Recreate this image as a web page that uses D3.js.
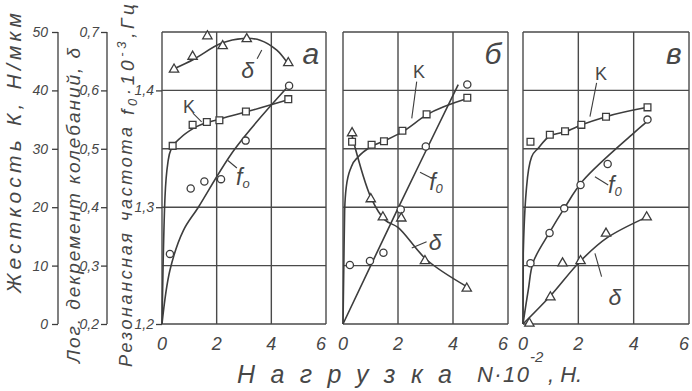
<!DOCTYPE html>
<html>
<head>
<meta charset="utf-8">
<script src="https://cdn.jsdelivr.net/npm/d3@7"></script>
<style>
  body { margin: 0; background: #fff; }
  svg { display: block; }
  text { font-family: "Liberation Sans", "DejaVu Sans", sans-serif; font-style: italic; fill: #474747; }
</style>
</head>
<body>
<svg id="chart" width="692" height="391"></svg>
<script>
// ---- data ----
const xTicks = [0, 2, 4, 6];
const kTicks = [0, 10, 20, 30, 40, 50];
const dTicks = [0.2, 0.3, 0.4, 0.5, 0.6, 0.7];
const fTicks = [1.2, 1.3, 1.4];
const panelNames = ["а", "б", "в"];

// panel а
const aK_x = [0.39, 1.12, 1.64, 2.10, 3.07, 4.62];
const aK_y = [30.5, 34.1, 34.6, 34.9, 36.4, 38.5];
const aF_x = [0.29, 1.05, 1.55, 2.16, 3.06, 4.65];
const aF_y = [1.260, 1.316, 1.322, 1.324, 1.357, 1.404];
const aD_x = [0.44, 1.12, 1.66, 2.22, 3.10, 4.62];
const aD_y = [0.636, 0.658, 0.693, 0.676, 0.688, 0.647];
const aKfit_x = [0, 0.04, 0.11, 0.23, 0.35, 0.66, 1.15, 2.12, 3.22, 4.61];
const aKfit_y = [0, 10, 21.8, 28.1, 30.1, 31.8, 33.5, 35.1, 36.5, 38.4];
const aFfit_x = [0, 0.29, 0.78, 1.33, 2.67, 4.56];
const aFfit_y = [1.2, 1.246, 1.28, 1.300, 1.350, 1.402];
const aDfit_x = [0.48, 1.15, 2.18, 2.97, 3.59, 4.2, 4.56];
const aDfit_y = [0.638, 0.653, 0.681, 0.689, 0.686, 0.669, 0.649];

// panel б
const bK_x = [0.33, 1.04, 1.49, 2.16, 3.04, 4.52];
const bK_y = [31.2, 30.7, 31.3, 33.1, 35.9, 38.75];
const bF_x = [0.25, 0.98, 1.47, 2.10, 3.01, 4.52];
const bF_y = [1.2505, 1.254, 1.261, 1.298, 1.352, 1.405];
const bD_x = [0.33, 1.01, 1.45, 2.12, 2.98, 4.50];
const bD_y = [0.527, 0.414, 0.383, 0.381, 0.308, 0.261];
const bKfit_x = [0, 0.03, 0.06, 0.12, 0.30, 0.55, 1.03, 1.52, 2.16, 3.04, 4.52];
const bKfit_y = [0, 10, 19.5, 23.5, 26.9, 28.6, 30.4, 31.4, 32.9, 35.8, 38.6];
const bFfit_x = [0, 2.0, 4.19];
const bFfit_y = [1.2, 1.299, 1.405];
const bDfit_x = [0.33, 1.03, 1.53, 2.01, 3.04, 4.5];
const bDfit_y = [0.522, 0.415, 0.378, 0.365, 0.31, 0.264];

// panel в
const cK_x = [0.27, 0.97, 1.52, 2.11, 3.0, 4.5];
const cK_y = [31.2, 32.4, 33.0, 34.1, 35.5, 37.1];
const cF_x = [0.27, 0.96, 1.49, 2.08, 3.06, 4.5];
const cF_y = [1.252, 1.278, 1.299, 1.319, 1.337, 1.375];
const cD_x = [0.23, 0.99, 1.43, 2.08, 3.0, 4.47];
const cD_y = [0.201, 0.246, 0.304, 0.308, 0.355, 0.383];
const cKfit_x = [0, 0.01, 0.13, 0.31, 0.55, 0.97, 1.52, 2.12, 3.0, 4.5];
const cKfit_y = [0, 12.1, 23.5, 28.6, 30.1, 32.2, 32.9, 34.1, 35.5, 37.1];
const cFfit_x = [0, 0.19, 0.37, 0.95, 1.49, 2.18, 3.98, 4.47];
const cFfit_y = [1.2, 1.229, 1.253, 1.278, 1.299, 1.323, 1.363, 1.373];
const cDfit_x = [0, 0.97, 2.06, 3.02, 4.47];
const cDfit_y = [0.2, 0.247, 0.307, 0.347, 0.383];

// curve labels: [series, text, x, y, leader x1, y1, x2, y2]
const aNotes = [["K", "K", 0.99, 36.1, 1.13, 36.1, 1.45, 34.6],
                ["D", "δ", 3.13, 0.621, 3.48, 0.654, 3.65, 0.669],
                ["F", "f", 2.96, 1.319, 2.41, 1.340, 2.74, 1.3336]];
const bNotes = [["K", "K", 2.76, 42.1, 2.68, 41.5, 2.5, 35.2],
                ["F", "f", 3.38, 1.315, 2.8, 1.330, 3.23, 1.3248],
                ["D", "δ", 3.35, 0.327, 2.5, 0.330, 3.04, 0.341]];
const cNotes = [["K", "K", 2.82, 41.8, 2.66, 41.3, 2.42, 35.5],
                ["F", "f", 3.32, 1.312, 2.6, 1.326, 3.08, 1.319],
                ["D", "δ", 3.32, 0.233, 2.6, 0.321, 2.84, 0.281]];

// ---- layout ----
const svg = d3.select("#chart");
const yTop = 32, yBot = 324;
const ink = "#3d3d3d";
const yK = d3.scaleLinear().domain([0, 50]).range([yBot, yTop]);
const yD = d3.scaleLinear().domain([0.2, 0.7]).range([yBot, yTop]);
const yF = d3.scaleLinear().domain([1.2, 1.45]).range([yBot, yTop]);
const ys = {K: yK, D: yD, F: yF};
const comma = d => String(d).replace(".", ",");

const panels = [
  {left: 162, right: 326, name: panelNames[0], fsub: "o",
   K: [aK_x, aK_y], F: [aF_x, aF_y], D: [aD_x, aD_y],
   Kfit: [aKfit_x, aKfit_y], Ffit: [aFfit_x, aFfit_y], Dfit: [aDfit_x, aDfit_y], notes: aNotes},
  {left: 343, right: 508, name: panelNames[1], fsub: "0",
   K: [bK_x, bK_y], F: [bF_x, bF_y], D: [bD_x, bD_y],
   Kfit: [bKfit_x, bKfit_y], Ffit: [bFfit_x, bFfit_y], Dfit: [bDfit_x, bDfit_y], notes: bNotes},
  {left: 523, right: 689, name: panelNames[2], fsub: "0",
   K: [cK_x, cK_y], F: [cF_x, cF_y], D: [cD_x, cD_y],
   Kfit: [cKfit_x, cKfit_y], Ffit: [cFfit_x, cFfit_y], Dfit: [cDfit_x, cDfit_y], notes: cNotes}
];

const zip = (p) => p[0].map((v, i) => [v, p[1][i]]);

panels.forEach(p => {
  const x = d3.scaleLinear().domain([0, 6]).range([p.left, p.right]);
  const g = svg.append("g");

  // grid
  g.selectAll(".vg").data(xTicks).enter().append("line")
    .attr("x1", d => x(d)).attr("x2", d => x(d))
    .attr("y1", yTop).attr("y2", yBot)
    .attr("stroke", "#4a4a4a").attr("stroke-width", 1.4);
  g.selectAll(".hg").data(kTicks).enter().append("line")
    .attr("x1", p.left).attr("x2", p.right)
    .attr("y1", d => yK(d)).attr("y2", d => yK(d))
    .attr("stroke", "#4a4a4a").attr("stroke-width", 1.4);

  // x tick labels
  g.selectAll(".xl").data(xTicks).enter().append("text")
    .attr("x", (d, i) => x(d) - (i == 3 ? 5 : 0)).attr("y", 350)
    .attr("text-anchor", "middle").attr("font-size", 18)
    .text(d => d);

  // fitted curves (K rises almost vertically, so keep it monotone)
  const line = (sc, c) => d3.line().x(d => x(d[0])).y(d => sc(d[1])).curve(c);
  [["Kfit", yK, d3.curveMonotoneX], ["Ffit", yF, d3.curveCatmullRom.alpha(0.5)],
   ["Dfit", yD, d3.curveCatmullRom.alpha(0.5)]].forEach(([k, sc, c]) => {
    g.append("path").datum(zip(p[k])).attr("d", line(sc, c))
      .attr("fill", "none").attr("stroke", ink).attr("stroke-width", 1.6);
  });

  // markers
  g.selectAll(".sq").data(zip(p.K)).enter().append("path")
    .attr("d", d3.symbol(d3.symbolSquare, 46)())
    .attr("transform", d => `translate(${x(d[0])},${yK(d[1])})`)
    .attr("fill", "#fff").attr("stroke", ink).attr("stroke-width", 1.3);
  g.selectAll(".ci").data(zip(p.F)).enter().append("circle")
    .attr("cx", d => x(d[0])).attr("cy", d => yF(d[1])).attr("r", 3.6)
    .attr("fill", "#fff").attr("stroke", ink).attr("stroke-width", 1.3);
  g.selectAll(".tr").data(zip(p.D)).enter().append("path")
    .attr("d", d3.symbol(d3.symbolTriangle, 38)())
    .attr("transform", d => `translate(${x(d[0])},${yD(d[1])})`)
    .attr("fill", "#fff").attr("stroke", ink).attr("stroke-width", 1.3);

  // curve labels + leaders
  p.notes.forEach(n => {
    const sc = ys[n[0]];
    g.append("line")
      .attr("x1", x(n[4])).attr("y1", sc(n[5]))
      .attr("x2", x(n[6])).attr("y2", sc(n[7]))
      .attr("stroke", ink).attr("stroke-width", 1.1);
    const t = g.append("text").attr("x", x(n[2])).attr("y", sc(n[3]))
      .attr("text-anchor", "middle")
      .attr("font-size", n[0] == "K" ? 18 : 23)
      .style("font-style", n[0] == "K" ? "normal" : "italic")
      .text(n[1]);
    if (n[0] == "F") t.append("tspan").attr("font-size", 13).attr("dy", 3).text(p.fsub);
  });

  // panel letter
  g.append("text").attr("x", x(5.45)).attr("y", yK(44.5))
    .attr("text-anchor", "middle").attr("font-size", 30)
    .text(p.name);
});

// ---- left axes ----
const axK = svg.append("g").attr("transform", "translate(58,0)")
  .call(d3.axisLeft(yK).tickValues(kTicks).tickSize(6).tickSizeOuter(0).tickPadding(4));
const axD = svg.append("g").attr("transform", "translate(107,0)")
  .call(d3.axisLeft(yD).tickValues(dTicks).tickSize(6).tickSizeOuter(0).tickPadding(2).tickFormat(comma));
const axF = svg.append("g").attr("transform", "translate(162,0)")
  .call(d3.axisLeft(yF).tickValues(fTicks).tickSize(6).tickSizeOuter(0).tickPadding(2).tickFormat(comma));
axF.select(".domain").remove();
[axK, axD, axF].forEach(a => {
  a.selectAll("path, line").attr("stroke", ink).attr("stroke-width", 1.3);
  a.selectAll("text").attr("font-size", 14).attr("fill", "#474747")
    .style("font-family", "Liberation Sans, sans-serif").style("font-style", "italic");
});
axK.select(".domain").attr("d", `M0,${yK(0)}V${yK(50)}`);
axD.select(".domain").attr("d", `M0,${yD(0.2)}V${yD(0.7)}`);

// rotated axis titles
function vtext(x, y0, len, size, str) {
  return svg.append("text")
    .attr("transform", `translate(${x},${y0}) rotate(-90)`)
    .attr("font-size", size)
    .attr("textLength", len).attr("lengthAdjust", "spacing")
    .text(str);
}
vtext(21, 293, 280, 21, "Жесткость К, Н/мкм");
vtext(80, 363, 315, 19, "Лог. декремент колебаний, δ");
vtext(132, 367, 134, 18, "Резонансная");
vtext(132, 221, 94, 18, "частота");
const ft = svg.append("text")
  .attr("transform", "translate(134,115) rotate(-90)")
  .attr("font-size", 19)
  .attr("textLength", 111).attr("lengthAdjust", "spacing");
ft.append("tspan").text("f");
ft.append("tspan").attr("font-size", 13).attr("dy", 3).text("0");
ft.append("tspan").attr("dy", -3).text("·10");
ft.append("tspan").attr("font-size", 13).attr("dy", -8).text("-3");
ft.append("tspan").attr("dy", 8).text(",Гц");

// x title
svg.append("text").attr("x", 237).attr("y", 383).attr("font-size", 25)
  .attr("textLength", 215).attr("lengthAdjust", "spacing").text("Нагрузка");
svg.append("text").attr("x", 477).attr("y", 382).attr("font-size", 22)
  .attr("textLength", 52).attr("lengthAdjust", "spacing").text("N·10");
svg.append("text").attr("x", 530).attr("y", 362).attr("font-size", 15).text("-2");
svg.append("text").attr("x", 548).attr("y", 382).attr("font-size", 22).text(", Н.");
</script>
</body>
</html>
